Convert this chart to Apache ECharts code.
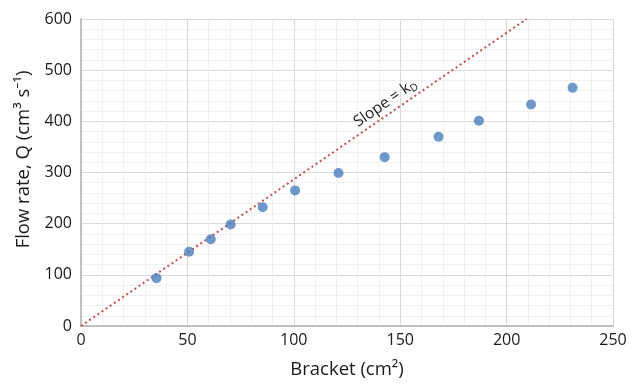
<!DOCTYPE html>
<html>
<head>
<meta charset="utf-8">
<script src="https://cdn.jsdelivr.net/npm/echarts@6/dist/echarts.min.js"></script>
<style>html,body{margin:0;padding:0;background:#fff}#c{width:632px;height:384px}</style>
</head>
<body>
<div id="c"></div>
<script>
const bracket = [35.5, 50.8, 61, 70.3, 85.4, 100.6, 121, 142.7, 168, 187, 211.5, 231];
const flow    = [93.5, 145, 169.5, 198.5, 232, 265, 299, 330, 370, 401, 433, 465.5];
const slopeLineX = [0, 209.4];
const slopeLineY = [0, 600];
const xTicks = [0, 50, 100, 150, 200, 250];
const yTicks = [0, 100, 200, 300, 400, 500, 600];

const FONT = '"Open Sans", "Noto Sans", sans-serif';
const chart = echarts.init(document.getElementById('c'), null, {renderer: 'canvas'});
const axisCommon = {
  type: 'value',
  axisLine: {show: true, lineStyle: {color: '#bfbfbf', width: 2}},
  axisTick: {show: false},
  minorTick: {show: false, splitNumber: 5},
  splitLine: {show: true, lineStyle: {color: '#d9d9d9', width: 1}},
  minorSplitLine: {show: true, lineStyle: {color: '#f0f0f0', width: 1}},
  axisLabel: {color: '#1a1a1a', fontSize: 16, fontFamily: FONT},
  nameLocation: 'middle',
  nameTextStyle: {color: '#1a1a1a', fontSize: 18.5, fontFamily: FONT}
};
chart.setOption({
  animation: false,
  backgroundColor: '#fff',
  grid: {left: 81, top: 19, width: 532, height: 308, containLabel: false},
  xAxis: Object.assign({}, axisCommon, {
    min: xTicks[0], max: xTicks[xTicks.length - 1], interval: 50,
    name: 'Bracket (cm²)', nameGap: 34,
    axisLabel: Object.assign({}, axisCommon.axisLabel, {margin: 6})
  }),
  yAxis: Object.assign({}, axisCommon, {
    min: yTicks[0], max: yTicks[yTicks.length - 1], interval: 100,
    name: 'Flow rate, Q (cm³ s⁻¹)', nameGap: 48,
    nameTextStyle: Object.assign({}, axisCommon.nameTextStyle, {padding: [0, 0, 0, 26]}),
    axisLabel: Object.assign({}, axisCommon.axisLabel, {margin: 9})
  }),
  series: [
    {
      type: 'line',
      data: slopeLineX.map((x, i) => [x, slopeLineY[i]]),
      showSymbol: false,
      lineStyle: {color: '#c0504d', width: 2, type: [2, 3]},
      z: 2
    },
    {
      type: 'scatter',
      data: bracket.map((x, i) => [x, flow[i]]),
      symbolSize: 10,
      itemStyle: {color: '#4a7ebb'},
      z: 3
    }
  ]
});
const p = chart.convertToPixel({gridIndex: 0}, [143, 436]);
chart.setOption({
  graphic: [{
    type: 'text',
    x: p[0], y: p[1],
    rotation: 35 * Math.PI / 180,
    style: {
      text: '{a|Slope = k}{s|D}',
      align: 'center', verticalAlign: 'middle',
      rich: {
        a: {fontSize: 15.5, fontFamily: FONT, fill: '#1a1a1a', lineHeight: 20},
        s: {fontSize: 10.5, fontFamily: FONT, fill: '#1a1a1a', lineHeight: 20, padding: [9, 0, 0, 0]}
      }
    }
  }]
});
</script>
</body>
</html>
